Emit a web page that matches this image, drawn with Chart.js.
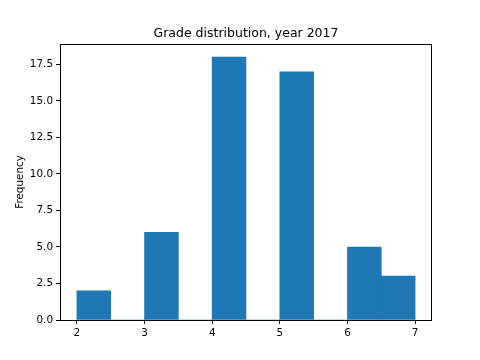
<!DOCTYPE html>
<html>
<head>
<meta charset="utf-8">
<script src="https://cdn.jsdelivr.net/npm/chart.js@4.4.0/dist/chart.umd.min.js"></script>
<style>
  body { margin: 0; background: #fff; }
  canvas { display: block; }
</style>
</head>
<body>
<canvas id="grafico" width="480" height="360" style="width:480px;height:360px"></canvas>
<script>
// histogram bins (width 0.5 from 2 to 7) and counts
var binStarts = [2, 2.5, 3, 3.5, 4, 4.5, 5, 5.5, 6, 6.5];
var binWidth = 0.5;
var counts = [2, 0, 6, 0, 18, 0, 17, 0, 5, 3];
var xTicks = [2, 3, 4, 5, 6, 7];
var yTicks = [0, 2.5, 5, 7.5, 10, 12.5, 15, 17.5];

var puntos = binStarts.map(function (b, i) {
    return { x: b + binWidth / 2, y: counts[i] };
});

var fuente = "'DejaVu Sans', sans-serif";

// marco de los ejes (4 lados)
var marco = {
    id: 'marco',
    afterDraw: function (chart) {
        var a = chart.chartArea, ctx = chart.ctx;
        ctx.save();
        ctx.strokeStyle = '#000';
        ctx.lineWidth = 1;
        ctx.strokeRect(Math.round(a.left) + 0.5, Math.round(a.top) + 0.5,
            Math.round(a.right - a.left) - 1, Math.round(a.bottom - a.top));
        ctx.restore();
    }
};

var grafico = new Chart(document.getElementById('grafico'), {
    type: 'bar',
    data: {
        datasets: [{
            data: puntos,
            backgroundColor: '#1f77b4',
            borderWidth: 0,
            barPercentage: 1,
            categoryPercentage: 1
        }]
    },
    options: {
        responsive: false,
        animation: false,
        devicePixelRatio: 1,
        layout: { padding: { left: 0, right: 48, top: 0, bottom: 0 } },
        plugins: {
            legend: { display: false },
            tooltip: { enabled: false },
            title: {
                display: true,
                fullSize: false,
                text: 'Grade distribution, year 2017',
                color: '#000',
                font: { family: fuente, size: 12.5, weight: 'normal', lineHeight: 1.2 },
                padding: { top: 26, bottom: 3 }
            }
        },
        scales: {
            x: {
                type: 'linear',
                min: 1.75,
                max: 7.25,
                offset: false,
                border: { display: false },
                grid: { offset: false, drawOnChartArea: false, drawTicks: true, tickLength: 4, color: '#000' },
                ticks: {
                    color: '#000', padding: 3,
                    font: { family: fuente, size: 10.4, lineHeight: 1.2 },
                    maxRotation: 0,
                    callback: function (v) { return v; }
                },
                afterBuildTicks: function (s) { s.ticks = xTicks.map(function (v) { return { value: v }; }); },
                afterFit: function (s) { s.height = 40; }
            },
            y: {
                min: 0,
                max: 18.9,
                border: { display: false },
                grid: { drawOnChartArea: false, drawTicks: true, tickLength: 4, color: '#000' },
                ticks: {
                    color: '#000', padding: 3,
                    font: { family: fuente, size: 10.4, lineHeight: 1.2 },
                    callback: function (v) { return Number(v).toFixed(1); }
                },
                afterBuildTicks: function (s) { s.ticks = yTicks.map(function (v) { return { value: v }; }); },
                afterFit: function (s) { s.width = 60; },
                title: {
                    display: true,
                    text: 'Frequency',
                    color: '#000',
                    font: { family: fuente, size: 10.4, lineHeight: 1.2 },
                    padding: { top: 14, bottom: 0 }
                }
            }
        }
    },
    plugins: [marco]
});
</script>
</body>
</html>
